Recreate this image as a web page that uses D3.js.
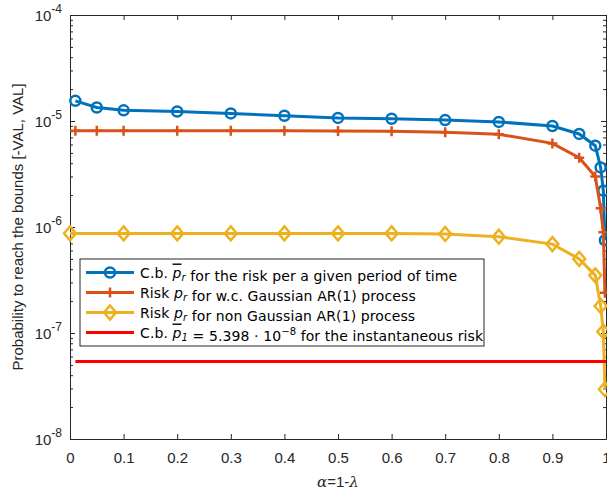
<!DOCTYPE html>
<html>
<head>
<meta charset="utf-8">
<script src="https://cdn.jsdelivr.net/npm/d3@7"></script>
<style>
  body { margin: 0; background: #fff; }
  svg { display: block; }
  .tick-label { font-family: "Liberation Sans", Arial, sans-serif; font-size: 15px; fill: #262626; }
  .legend-text { font-family: "DejaVu Sans", sans-serif; font-size: 14px; letter-spacing: 0.1px; fill: #000; }
</style>
</head>
<body>
<div id="chart"></div>
<script>
// ---- data ----
var alphaBlue = [0.01, 0.05, 0.1, 0.2, 0.3, 0.4, 0.5, 0.6, 0.7, 0.8, 0.9, 0.95, 0.98, 0.99, 0.995, 0.998];
var blueValues = [1.55e-5, 1.34e-5, 1.26e-5, 1.23e-5, 1.18e-5, 1.12e-5, 1.07e-5, 1.05e-5, 1.02e-5, 9.8e-6, 8.97e-6, 7.55e-6, 5.85e-6, 3.65e-6, 2.2e-6, 7.5e-7];

var alphaOrange = [0.01, 0.05, 0.1, 0.2, 0.3, 0.4, 0.5, 0.6, 0.7, 0.8, 0.9, 0.95, 0.98, 0.99, 0.995, 0.998];
var orangeValues = [8.1e-6, 8.1e-6, 8.1e-6, 8.1e-6, 8.1e-6, 8.1e-6, 8.05e-6, 8.0e-6, 7.85e-6, 7.5e-6, 6.15e-6, 4.5e-6, 3.0e-6, 1.5e-6, 8.9e-7, 2.4e-7];

var alphaYellow = [0, 0.1, 0.2, 0.3, 0.4, 0.5, 0.6, 0.7, 0.8, 0.9, 0.95, 0.98, 0.99, 0.995, 0.998];
var yellowValues = [8.7e-7, 8.7e-7, 8.7e-7, 8.7e-7, 8.7e-7, 8.7e-7, 8.7e-7, 8.6e-7, 8.1e-7, 6.9e-7, 5.0e-7, 3.5e-7, 1.8e-7, 1.03e-7, 2.95e-8];

var alphaRed = [0.01, 1];
var redValues = [5.398e-8, 5.398e-8];

var xTicks = [0, 0.1, 0.2, 0.3, 0.4, 0.5, 0.6, 0.7, 0.8, 0.9, 1];
var yTickExponents = [-8, -7, -6, -5, -4];

var seriesColors = ["#0072BD", "#D95319", "#EDB120", "#FF0000"];

// ---- layout ----
var width = 607, height = 491;
var margin = { top: 15, right: 1, bottom: 52, left: 70 };
var plotW = width - margin.left - margin.right;
var plotH = height - margin.top - margin.bottom;

var svg = d3.select("#chart").append("svg")
    .attr("width", width)
    .attr("height", height);

var x = d3.scaleLinear().domain([0, 1]).range([0, plotW]);
var y = d3.scaleLog().domain([1e-8, 1e-4]).range([plotH, 0]);

var g = svg.append("g")
    .attr("transform", "translate(" + margin.left + "," + margin.top + ")");

// axes: MATLAB style, ticks pointing inward, box on
var tickLen = 5;
var minorTicks = [];
yTickExponents.slice(0, -1).forEach(function(e) {
    for (var k = 2; k <= 9; k++) minorTicks.push(k * Math.pow(10, e));
});
var majorTicks = yTickExponents.map(function(e) { return Math.pow(10, e); });

var xAxisBottom = d3.axisBottom(x).tickValues(xTicks).tickSizeInner(-tickLen).tickSizeOuter(0).tickFormat(d3.format("~g"));
var xAxisTop = d3.axisTop(x).tickValues(xTicks).tickSizeInner(-tickLen).tickSizeOuter(0).tickFormat("");
var yAxisLeft = d3.axisLeft(y).tickValues(majorTicks).tickSizeInner(-tickLen).tickSizeOuter(0).tickFormat("");
var yAxisRight = d3.axisRight(y).tickValues(majorTicks).tickSizeInner(-tickLen).tickSizeOuter(0).tickFormat("");
var yMinorLeft = d3.axisLeft(y).tickValues(minorTicks).tickSizeInner(-tickLen * 0.6).tickSizeOuter(0).tickFormat("");
var yMinorRight = d3.axisRight(y).tickValues(minorTicks).tickSizeInner(-tickLen * 0.6).tickSizeOuter(0).tickFormat("");

var gx = g.append("g").attr("transform", "translate(0," + plotH + ")").call(xAxisBottom);
gx.selectAll("text").attr("class", "tick-label").attr("dy", null).attr("y", 24);
g.append("g").call(xAxisTop);
g.append("g").call(yAxisLeft);
g.append("g").attr("transform", "translate(" + plotW + ",0)").call(yAxisRight);
g.append("g").call(yMinorLeft);
g.append("g").attr("transform", "translate(" + plotW + ",0)").call(yMinorRight);

g.selectAll(".domain").attr("stroke", "#262626");
g.selectAll(".tick line").attr("stroke", "#262626");

// y tick labels with superscript exponents
var yLabels = g.append("g").selectAll("text")
    .data(yTickExponents)
    .enter().append("text")
    .attr("class", "tick-label")
    .attr("x", -8)
    .attr("y", function(d) { return y(Math.pow(10, d)) + 6; })
    .attr("text-anchor", "end");
yLabels.append("tspan").text("10");
yLabels.append("tspan").attr("dy", -8).attr("font-size", 12).text(function(d) { return d; });

// axis titles
svg.append("text")
    .attr("class", "tick-label")
    .attr("font-size", 16.5)
    .attr("transform", "translate(23," + (margin.top + plotH / 2) + ") rotate(-90)")
    .attr("text-anchor", "middle")
    .text("Probability to reach the bounds [-VAL, VAL]");

var xTitle = svg.append("text")
    .attr("class", "tick-label")
    .attr("font-size", 16)
    .attr("x", margin.left + plotW / 2)
    .attr("y", 487)
    .attr("text-anchor", "middle");
xTitle.append("tspan").attr("font-family", "DejaVu Serif").attr("font-style", "italic").text("α");
xTitle.append("tspan").text("=1-");
xTitle.append("tspan").attr("font-family", "DejaVu Serif").attr("font-style", "italic").text("λ");

// ---- series ----
var line = d3.line()
    .x(function(d) { return x(d[0]); })
    .y(function(d) { return y(d[1]); });

var plot = g.append("g");

function zip(a, b) { return a.map(function(v, i) { return [v, b[i]]; }); }

var seriesData = [
    { pts: zip(alphaBlue, blueValues), color: seriesColors[0], marker: "circle" },
    { pts: zip(alphaOrange, orangeValues), color: seriesColors[1], marker: "plus" },
    { pts: zip(alphaYellow, yellowValues), color: seriesColors[2], marker: "diamond" },
    { pts: zip(alphaRed, redValues), color: seriesColors[3], marker: "none" }
];

function drawMarker(sel, type, color) {
    if (type === "circle") {
        sel.append("circle").attr("r", 5).attr("fill", "none")
            .attr("stroke", color).attr("stroke-width", 2.5);
    } else if (type === "plus") {
        sel.append("path").attr("d", "M-5,0H5M0,-5V5").attr("fill", "none")
            .attr("stroke", color).attr("stroke-width", 2.5);
    } else if (type === "diamond") {
        sel.append("path").attr("d", "M0,-7L6,0L0,7L-6,0Z").attr("fill", "none")
            .attr("stroke", color).attr("stroke-width", 2.5).attr("stroke-linejoin", "miter");
    }
}

seriesData.forEach(function(s) {
    plot.append("path")
        .datum(s.pts)
        .attr("fill", "none")
        .attr("stroke", s.color)
        .attr("stroke-width", 3)
        .attr("d", line);
    if (s.marker !== "none") {
        var m = plot.append("g").selectAll("g")
            .data(s.pts)
            .enter().append("g")
            .attr("transform", function(d) { return "translate(" + x(d[0]) + "," + y(d[1]) + ")"; });
        drawMarker(m, s.marker, s.color);
    }
});

// ---- legend ----
var legendX = 80, legendY = 259, legendW = 404, legendH = 87, rowH = 20;
var legend = svg.append("g").attr("transform", "translate(" + legendX + "," + legendY + ")");
legend.append("rect")
    .attr("width", legendW).attr("height", legendH)
    .attr("fill", "#fff").attr("stroke", "#262626").attr("stroke-width", 1);

var legendRows = legend.selectAll("g.row")
    .data(seriesData)
    .enter().append("g")
    .attr("class", "row")
    .attr("transform", function(d, i) { return "translate(0," + (13.5 + i * rowH) + ")"; });

legendRows.append("line")
    .attr("x1", 6).attr("x2", 54)
    .attr("stroke", function(d) { return d.color; })
    .attr("stroke-width", 3);
legendRows.each(function(d) {
    var m = d3.select(this).append("g").attr("transform", "translate(30,0)");
    drawMarker(m, d.marker, d.color);
});

var legendText = legendRows.append("text")
    .attr("class", "legend-text")
    .attr("x", 60)
    .attr("y", 5);

function pItalic(t, sub, bar) {
    var p = t.append("tspan").attr("font-style", "italic").text("p");
    if (bar) p.style("text-decoration", "overline");
    t.append("tspan").attr("font-style", "italic").attr("font-size", 10).attr("dy", 3).text(sub);
    t.append("tspan").attr("dy", -3).text("");
}

var t0 = d3.select(legendText.nodes()[0]);
t0.append("tspan").text("C.b. ");
pItalic(t0, "r", true);
t0.append("tspan").text(" for the risk per a given period of time");

var t1 = d3.select(legendText.nodes()[1]);
t1.append("tspan").text("Risk ");
pItalic(t1, "r", false);
t1.append("tspan").text(" for w.c. Gaussian AR(1) process");

var t2 = d3.select(legendText.nodes()[2]);
t2.append("tspan").text("Risk ");
pItalic(t2, "r", false);
t2.append("tspan").text(" for non Gaussian AR(1) process");

var t3 = d3.select(legendText.nodes()[3]);
t3.append("tspan").text("C.b. ");
pItalic(t3, "1", true);
t3.append("tspan").text(" = 5.398 · 10");
t3.append("tspan").attr("dy", -6).attr("font-size", 10).text("−8");
t3.append("tspan").attr("dy", 6).text(" for the instantaneous risk");
</script>
</body>
</html>
